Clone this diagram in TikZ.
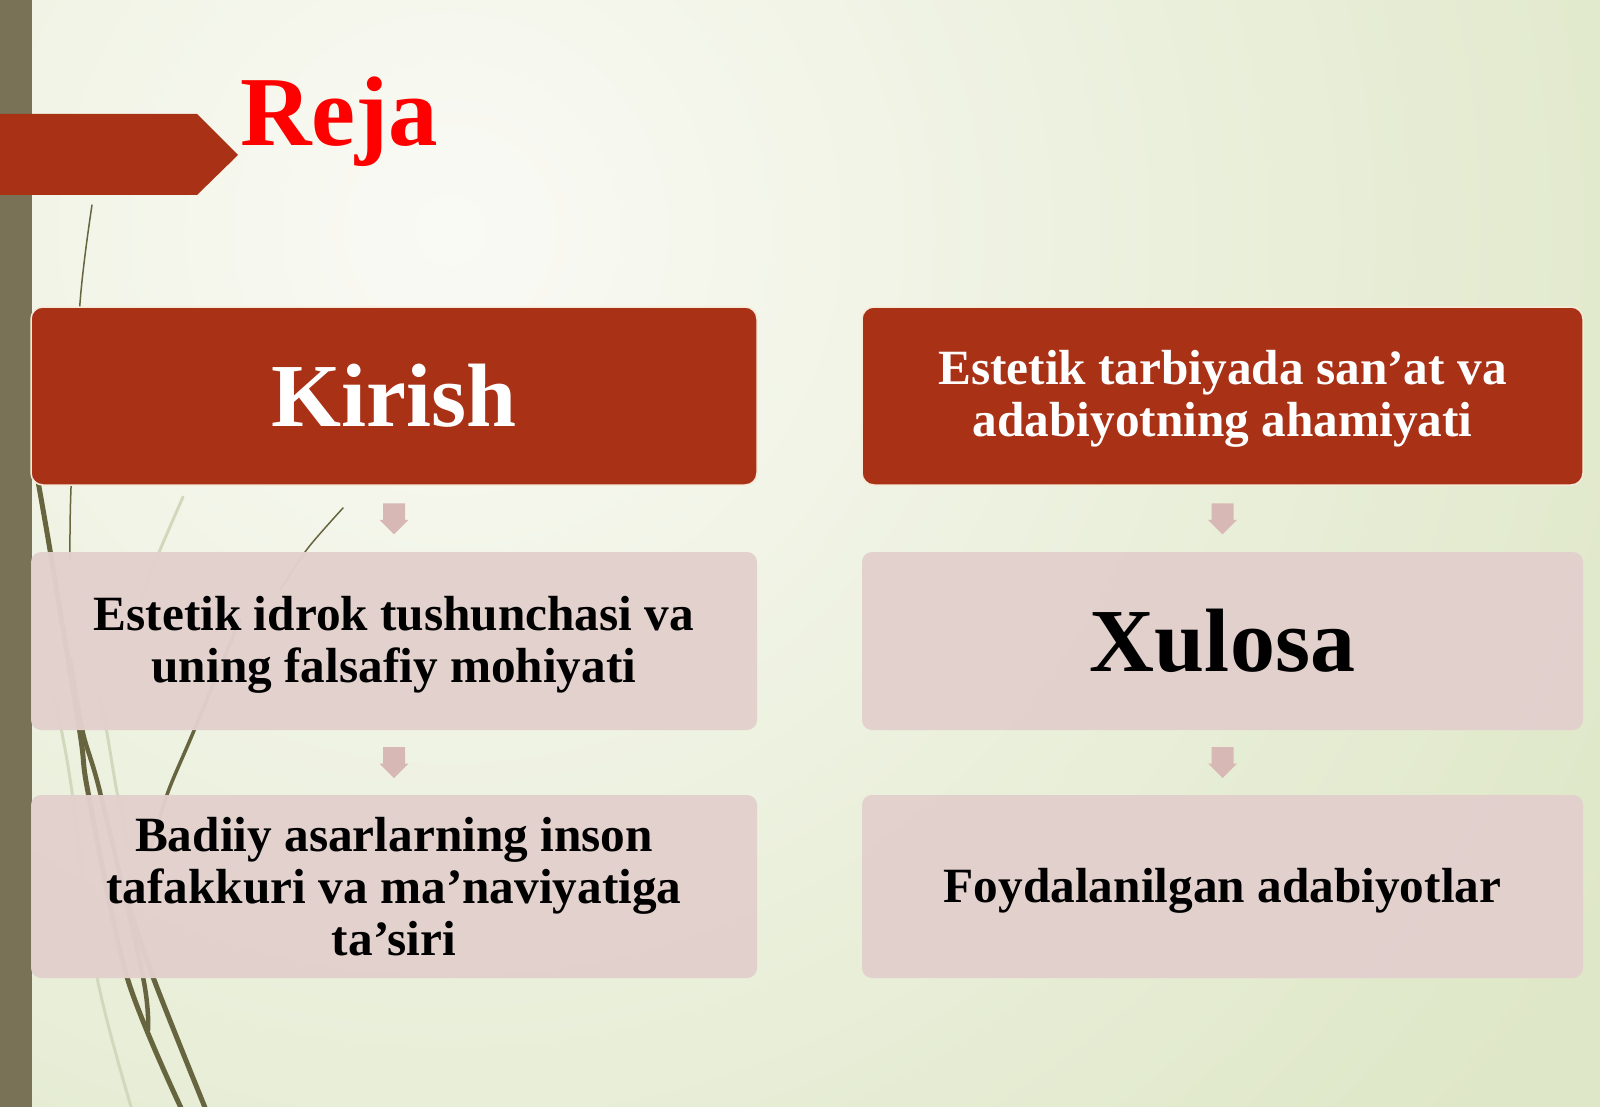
\documentclass[tikz,border=0pt]{standalone}
\usepackage{fontspec}
\setmainfont{Liberation Serif}
\usetikzlibrary{calc}
\definecolor{bgout}{HTML}{DEE7C7}
\definecolor{bgin}{HTML}{FAFAF5}
\definecolor{olivebar}{HTML}{7A7256}
\definecolor{deepred}{HTML}{A83116}
\definecolor{rose}{HTML}{E2D0CD}
\definecolor{rosearrow}{HTML}{D8B8B4}
\definecolor{grassc}{HTML}{66653F}
\definecolor{grasslight}{HTML}{D2D8BC}
\definecolor{rejared}{HTML}{FF0000}
\definecolor{creamline}{HTML}{F6EAD8}
\tikzset{
  redbox/.style={draw=creamline, line width=1.5pt, fill=deepred, rounded corners=12pt,
    inner sep=0pt, align=center, text=white, font=\bfseries\fontsize{49.3}{52}\selectfont},
  rosebox/.style={fill=rose, fill opacity=0.97, text opacity=1, rounded corners=10pt,
    inner sep=0pt, align=center, text=black, font=\bfseries\fontsize{49.3}{52}\selectfont},
  bigword/.style={font=\bfseries\fontsize{90}{94}\selectfont},
  grass/.style={draw=grassc, line cap=round, line join=round},
  grassfaint/.style={draw=grasslight, line cap=round, line join=round},
  arrowshape/.style={fill=rosearrow},
}
\newcommand{\blockarrowdown}[2]{%
  \coordinate (m#1#2) at ($(#1.south)!0.5!(#2.north)$);
  \fill[arrowshape] ($(m#1#2)+(-11,-15.5)$) -- ($(m#1#2)+(11,-15.5)$) -- ($(m#1#2)+(11,1)$)
    -- ($(m#1#2)+(14.5,1)$) -- ($(m#1#2)+(0,15.5)$) -- ($(m#1#2)+(-14.5,1)$)
    -- ($(m#1#2)+(-11,1)$) -- cycle;}
\begin{document}
\begin{tikzpicture}[x=1pt,y=-1pt]
\useasboundingbox (0,0) rectangle (1600,1107);
% background
\begin{scope}
  \clip (0,0) rectangle (1600,1107);
  \fill[bgout] (0,0) rectangle (1600,1107);
  \shade[inner color=bgin, outer color=bgout] (450,230) circle (1350);
\end{scope}
% left bar
\fill[olivebar] (0,0) rectangle (32,1107);
% grass blades
\draw[grassfaint, line width=3pt] plot[smooth] coordinates {(183,497) (160,550) (140,600)};
\draw[grassfaint, line width=3pt] plot[smooth] coordinates {(55,700) (62,733) (72,792) (97,977) (132,1110)};
\draw[grassfaint, line width=3pt] plot[smooth] coordinates {(100,700) (107,733) (117,792) (130,850)};
\draw[grass, line width=5pt] plot[smooth] coordinates {(36,470) (50,550) (80,733) (88,792) (127,977) (182,1110)};
\draw[grass, line width=4.5pt] plot[smooth] coordinates {(70,660) (83,733) (100,792) (143,977) (148,1030)};
\draw[grass, line width=5pt] plot[smooth] coordinates {(120,880) (153,977) (206,1110)};
\draw[grass, line width=3.5pt] plot[smooth] coordinates {(150,850) (168,792) (193,733) (240,620)};
\draw[grass, line width=1.5pt] plot[smooth] coordinates {(92,205) (80,303) (71,488) (70,560)};
\draw[grass, line width=1.5pt] plot[smooth] coordinates {(343,508) (308,548) (280,590)};
% boxes
\node[redbox, bigword, minimum width=726pt, minimum height=178pt] (kir) at (394,396) {Kirish};
\node[redbox, minimum width=721pt, minimum height=178pt] (tar) at (1222.5,396) {};
\node[align=center, text=white, font=\bfseries\fontsize{49.3}{52}\selectfont, inner sep=0pt]
  (tart) at ($(tar.center)+(0,3)$) {Estetik tarbiyada san’at va\\adabiyotning ahamiyati};
\node[rosebox, minimum width=726pt, minimum height=178pt] (idr) at (394,641) {};
\node[align=center, font=\bfseries\fontsize{49.3}{52}\selectfont, inner sep=0pt]
  (idrt) at ($(idr.center)+(0,4)$) {Estetik idrok tushunchasi va\\uning falsafiy mohiyati};
\node[rosebox, bigword, minimum width=721pt, minimum height=178pt] (xul) at (1222.5,641) {Xulosa};
\node[rosebox, minimum width=726pt, minimum height=183pt] (bad) at (394,886.5)
  {Badiiy asarlarning inson\\tafakkuri va ma’naviyatiga\\ta’siri};
\node[rosebox, minimum width=721pt, minimum height=183pt] (foy) at (1222.5,886.5) {};
\node[font=\bfseries\fontsize{49.3}{52}\selectfont, inner sep=0pt]
  (foyt) at ($(foy.center)+(0,4)$) {Foydalanilgan adabiyotlar};
% arrows
\blockarrowdown{kir}{idr}
\blockarrowdown{idr}{bad}
\blockarrowdown{tar}{xul}
\blockarrowdown{xul}{foy}
% banner and title
\fill[deepred] (0,114) -- (197,114) -- (238,155) -- (197,195) -- (0,195) -- cycle;
\node[font=\bfseries\fontsize{99}{103}\selectfont, text=rejared, anchor=base west, inner sep=0pt]
  (reja) at (240,146) {Reja};
\end{tikzpicture}
\end{document}
